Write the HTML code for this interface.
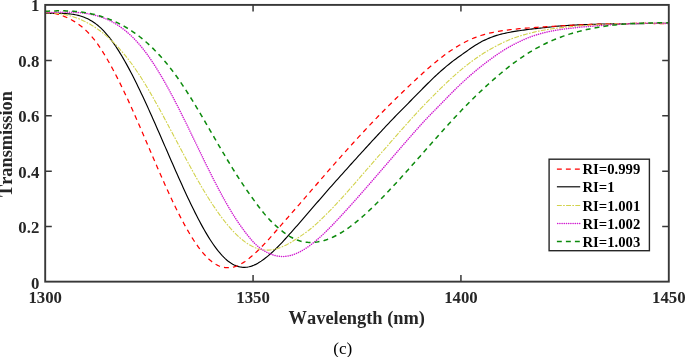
<!DOCTYPE html>
<html lang="en">
<head>
<meta charset="utf-8">
<title>Transmission vs Wavelength (c)</title>
<style>
html,body{margin:0;padding:0;background:#ffffff;}
body{width:685px;height:357px;overflow:hidden;position:relative;font-family:"Liberation Serif","Times New Roman",serif;}
</style>
</head>
<body>
<svg width="685" height="357" viewBox="0 0 685 357" style="position:absolute;left:0;top:0;display:block;will-change:transform">
<defs><filter id="ga" filterUnits="userSpaceOnUse" x="0" y="0" width="685" height="357"><feOffset dx="0" dy="0"/></filter></defs>
<rect x="0" y="0" width="685" height="357" fill="#ffffff"/>
<clipPath id="cp"><rect x="45.2" y="4.9" width="623.5999999999999" height="276.75"/></clipPath>
<g fill="none" clip-path="url(#cp)" stroke-linecap="butt" stroke-linejoin="round">
<path d="M45.2,13.40 L46.7,13.41 L48.2,13.42 L49.7,13.42 L51.2,13.41 L52.7,13.40 L54.2,13.39 L55.7,13.38 L57.2,13.37 L58.7,13.38 L60.2,13.39 L61.7,13.41 L63.2,13.46 L64.7,13.52 L66.2,13.60 L67.7,13.70 L69.2,13.84 L70.7,14.00 L72.2,14.20 L73.7,14.43 L75.2,14.70 L76.7,15.01 L78.2,15.37 L79.7,15.77 L81.2,16.22 L82.7,16.73 L84.2,17.29 L85.7,17.91 L87.2,18.59 L88.7,19.34 L90.2,20.15 L91.7,21.03 L93.2,21.98 L94.7,23.01 L96.2,24.12 L97.7,25.31 L99.2,26.58 L100.7,27.94 L102.2,29.39 L103.7,30.93 L105.2,32.56 L106.7,34.27 L108.2,36.08 L109.7,37.96 L111.2,39.93 L112.7,41.98 L114.2,44.10 L115.7,46.30 L117.2,48.57 L118.7,50.92 L120.2,53.33 L121.7,55.81 L123.2,58.35 L124.7,60.96 L126.2,63.63 L127.7,66.35 L129.2,69.13 L130.7,71.97 L132.2,74.86 L133.7,77.79 L135.2,80.78 L136.7,83.81 L138.2,86.88 L139.7,89.99 L141.2,93.14 L142.7,96.32 L144.2,99.54 L145.7,102.79 L147.2,106.07 L148.7,109.38 L150.2,112.71 L151.7,116.06 L153.2,119.44 L154.7,122.83 L156.2,126.24 L157.7,129.66 L159.2,133.09 L160.7,136.53 L162.2,139.97 L163.7,143.43 L165.2,146.88 L166.7,150.33 L168.2,153.78 L169.7,157.23 L171.2,160.67 L172.7,164.10 L174.2,167.52 L175.7,170.92 L177.2,174.31 L178.7,177.68 L180.2,181.03 L181.7,184.36 L183.2,187.66 L184.7,190.94 L186.2,194.18 L187.7,197.40 L189.2,200.57 L190.7,203.71 L192.2,206.81 L193.7,209.87 L195.2,212.88 L196.7,215.84 L198.2,218.74 L199.7,221.59 L201.2,224.38 L202.7,227.11 L204.2,229.77 L205.7,232.37 L207.2,234.90 L208.7,237.35 L210.2,239.72 L211.7,242.02 L213.2,244.23 L214.7,246.36 L216.2,248.40 L217.7,250.35 L219.2,252.21 L220.7,253.96 L222.2,255.62 L223.7,257.17 L225.2,258.62 L226.7,259.96 L228.2,261.19 L229.7,262.30 L231.2,263.30 L232.7,264.19 L234.2,264.96 L235.7,265.62 L237.2,266.17 L238.7,266.62 L240.2,266.95 L241.7,267.18 L243.2,267.31 L244.7,267.33 L246.2,267.24 L247.7,267.06 L249.2,266.77 L250.7,266.39 L252.2,265.90 L253.7,265.32 L255.2,264.64 L256.7,263.88 L258.2,263.03 L259.7,262.10 L261.2,261.11 L262.7,260.06 L264.2,258.95 L265.7,257.79 L267.2,256.59 L268.7,255.34 L270.2,254.04 L271.7,252.70 L273.2,251.33 L274.7,249.91 L276.2,248.46 L277.7,246.97 L279.2,245.44 L280.7,243.88 L282.2,242.28 L283.7,240.65 L285.2,239.00 L286.7,237.33 L288.2,235.65 L289.7,233.97 L291.2,232.28 L292.7,230.59 L294.2,228.90 L295.7,227.21 L297.2,225.52 L298.7,223.81 L300.2,222.11 L301.7,220.39 L303.2,218.68 L304.7,216.95 L306.2,215.21 L307.7,213.47 L309.2,211.73 L310.7,209.98 L312.2,208.24 L313.7,206.49 L315.2,204.74 L316.7,202.99 L318.2,201.25 L319.7,199.51 L321.2,197.77 L322.7,196.04 L324.2,194.31 L325.7,192.59 L327.2,190.88 L328.7,189.18 L330.2,187.49 L331.7,185.79 L333.2,184.11 L334.7,182.42 L336.2,180.74 L337.7,179.06 L339.2,177.38 L340.7,175.70 L342.2,174.02 L343.7,172.35 L345.2,170.68 L346.7,169.01 L348.2,167.34 L349.7,165.67 L351.2,164.01 L352.7,162.35 L354.2,160.69 L355.7,159.04 L357.2,157.38 L358.7,155.73 L360.2,154.08 L361.7,152.43 L363.2,150.79 L364.7,149.15 L366.2,147.51 L367.7,145.88 L369.2,144.24 L370.7,142.61 L372.2,140.98 L373.7,139.36 L375.2,137.74 L376.7,136.12 L378.2,134.50 L379.7,132.89 L381.2,131.28 L382.7,129.67 L384.2,128.07 L385.7,126.47 L387.2,124.87 L388.7,123.28 L390.2,121.69 L391.7,120.11 L393.2,118.54 L394.7,116.98 L396.2,115.44 L397.7,113.90 L399.2,112.37 L400.7,110.85 L402.2,109.33 L403.7,107.82 L405.2,106.31 L406.7,104.80 L408.2,103.28 L409.7,101.76 L411.2,100.24 L412.7,98.71 L414.2,97.18 L415.7,95.65 L417.2,94.11 L418.7,92.58 L420.2,91.05 L421.7,89.53 L423.2,88.01 L424.7,86.51 L426.2,85.01 L427.7,83.52 L429.2,82.05 L430.7,80.58 L432.2,79.13 L433.7,77.70 L435.2,76.28 L436.7,74.88 L438.2,73.50 L439.7,72.14 L441.2,70.80 L442.7,69.48 L444.2,68.19 L445.7,66.92 L447.2,65.67 L448.7,64.44 L450.2,63.24 L451.7,62.06 L453.2,60.91 L454.7,59.78 L456.2,58.67 L457.7,57.58 L459.2,56.50 L460.7,55.42 L462.2,54.35 L463.7,53.29 L465.2,52.22 L466.7,51.16 L468.2,50.10 L469.7,49.05 L471.2,48.02 L472.7,47.01 L474.2,46.02 L475.7,45.07 L477.2,44.15 L478.7,43.27 L480.2,42.42 L481.7,41.61 L483.2,40.84 L484.7,40.11 L486.2,39.40 L487.7,38.73 L489.2,38.10 L490.7,37.49 L492.2,36.92 L493.7,36.38 L495.2,35.87 L496.7,35.40 L498.2,34.96 L499.7,34.54 L501.2,34.15 L502.7,33.79 L504.2,33.44 L505.7,33.11 L507.2,32.80 L508.7,32.50 L510.2,32.22 L511.7,31.94 L513.2,31.67 L514.7,31.42 L516.2,31.17 L517.7,30.93 L519.2,30.70 L520.7,30.48 L522.2,30.27 L523.7,30.06 L525.2,29.86 L526.7,29.67 L528.2,29.47 L529.7,29.29 L531.2,29.11 L532.7,28.93 L534.2,28.76 L535.7,28.59 L537.2,28.43 L538.7,28.27 L540.2,28.11 L541.7,27.95 L543.2,27.79 L544.7,27.63 L546.2,27.46 L547.7,27.29 L549.2,27.12 L550.7,26.95 L552.2,26.78 L553.7,26.61 L555.2,26.45 L556.7,26.29 L558.2,26.14 L559.7,26.01 L561.2,25.88 L562.7,25.76 L564.2,25.66 L565.7,25.56 L567.2,25.47 L568.7,25.38 L570.2,25.29 L571.7,25.21 L573.2,25.13 L574.7,25.06 L576.2,24.99 L577.7,24.92 L579.2,24.85 L580.7,24.78 L582.2,24.72 L583.7,24.66 L585.2,24.61 L586.7,24.55 L588.2,24.50 L589.7,24.45 L591.2,24.40 L592.7,24.35 L594.2,24.31 L595.7,24.27 L597.2,24.23 L598.7,24.19 L600.2,24.15 L601.7,24.12 L603.2,24.09 L604.7,24.05 L606.2,24.02 L607.7,24.00 L609.2,23.97 L610.7,23.94 L612.2,23.92 L613.7,23.89 L615.2,23.87 L616.7,23.85 L618.2,23.83 L619.7,23.81 L621.2,23.79 L622.7,23.77 L624.2,23.75 L625.7,23.74 L627.2,23.72 L628.7,23.70 L630.2,23.69 L631.7,23.67 L633.2,23.66 L634.7,23.65 L636.2,23.63 L637.7,23.62 L639.2,23.60 L640.7,23.59 L642.2,23.57 L643.7,23.56 L645.2,23.55 L646.7,23.53 L648.2,23.51 L649.7,23.50 L651.2,23.48 L652.7,23.47 L654.2,23.45 L655.7,23.43 L657.2,23.41 L658.7,23.39 L660.2,23.37 L661.7,23.35 L663.2,23.33 L664.7,23.30 L666.2,23.28 L668.8,23.23" stroke="#000000" stroke-width="1.15"/>
<path d="M45.2,12.34 L46.7,12.37 L48.2,12.46 L49.7,12.61 L51.2,12.81 L52.7,13.06 L54.2,13.36 L55.7,13.70 L57.2,14.08 L58.7,14.49 L60.2,14.95 L61.7,15.45 L63.2,16.00 L64.7,16.59 L66.2,17.23 L67.7,17.91 L69.2,18.64 L70.7,19.41 L72.2,20.24 L73.7,21.11 L75.2,22.04 L76.7,23.02 L78.2,24.06 L79.7,25.16 L81.2,26.32 L82.7,27.55 L84.2,28.85 L85.7,30.22 L87.2,31.67 L88.7,33.20 L90.2,34.81 L91.7,36.51 L93.2,38.30 L94.7,40.18 L96.2,42.15 L97.7,44.23 L99.2,46.39 L100.7,48.63 L102.2,50.95 L103.7,53.35 L105.2,55.82 L106.7,58.35 L108.2,60.94 L109.7,63.59 L111.2,66.29 L112.7,69.05 L114.2,71.86 L115.7,74.72 L117.2,77.64 L118.7,80.60 L120.2,83.61 L121.7,86.67 L123.2,89.78 L124.7,92.93 L126.2,96.13 L127.7,99.36 L129.2,102.63 L130.7,105.93 L132.2,109.27 L133.7,112.63 L135.2,116.02 L136.7,119.43 L138.2,122.87 L139.7,126.32 L141.2,129.78 L142.7,133.26 L144.2,136.75 L145.7,140.25 L147.2,143.75 L148.7,147.25 L150.2,150.76 L151.7,154.26 L153.2,157.75 L154.7,161.24 L156.2,164.71 L157.7,168.17 L159.2,171.62 L160.7,175.04 L162.2,178.45 L163.7,181.82 L165.2,185.18 L166.7,188.50 L168.2,191.79 L169.7,195.04 L171.2,198.26 L172.7,201.44 L174.2,204.57 L175.7,207.66 L177.2,210.70 L178.7,213.69 L180.2,216.63 L181.7,219.51 L183.2,222.33 L184.7,225.09 L186.2,227.78 L187.7,230.41 L189.2,232.98 L190.7,235.47 L192.2,237.88 L193.7,240.22 L195.2,242.49 L196.7,244.67 L198.2,246.77 L199.7,248.78 L201.2,250.71 L202.7,252.54 L204.2,254.29 L205.7,255.93 L207.2,257.49 L208.7,258.93 L210.2,260.28 L211.7,261.52 L213.2,262.65 L214.7,263.66 L216.2,264.56 L217.7,265.33 L219.2,266.00 L220.7,266.54 L222.2,266.98 L223.7,267.31 L225.2,267.53 L226.7,267.66 L228.2,267.69 L229.7,267.61 L231.2,267.44 L232.7,267.17 L234.2,266.80 L235.7,266.33 L237.2,265.77 L238.7,265.11 L240.2,264.37 L241.7,263.54 L243.2,262.63 L244.7,261.65 L246.2,260.60 L247.7,259.49 L249.2,258.31 L250.7,257.07 L252.2,255.79 L253.7,254.45 L255.2,253.08 L256.7,251.68 L258.2,250.25 L259.7,248.78 L261.2,247.28 L262.7,245.75 L264.2,244.18 L265.7,242.58 L267.2,240.96 L268.7,239.30 L270.2,237.63 L271.7,235.94 L273.2,234.23 L274.7,232.51 L276.2,230.78 L277.7,229.05 L279.2,227.33 L280.7,225.60 L282.2,223.89 L283.7,222.18 L285.2,220.48 L286.7,218.77 L288.2,217.07 L289.7,215.37 L291.2,213.66 L292.7,211.94 L294.2,210.22 L295.7,208.50 L297.2,206.77 L298.7,205.04 L300.2,203.31 L301.7,201.57 L303.2,199.84 L304.7,198.10 L306.2,196.36 L307.7,194.62 L309.2,192.89 L310.7,191.15 L312.2,189.42 L313.7,187.68 L315.2,185.95 L316.7,184.22 L318.2,182.49 L319.7,180.76 L321.2,179.04 L322.7,177.31 L324.2,175.59 L325.7,173.87 L327.2,172.16 L328.7,170.44 L330.2,168.73 L331.7,167.02 L333.2,165.32 L334.7,163.62 L336.2,161.92 L337.7,160.22 L339.2,158.53 L340.7,156.84 L342.2,155.16 L343.7,153.48 L345.2,151.80 L346.7,150.13 L348.2,148.47 L349.7,146.81 L351.2,145.15 L352.7,143.50 L354.2,141.85 L355.7,140.21 L357.2,138.57 L358.7,136.94 L360.2,135.31 L361.7,133.69 L363.2,132.08 L364.7,130.47 L366.2,128.87 L367.7,127.28 L369.2,125.69 L370.7,124.11 L372.2,122.53 L373.7,120.96 L375.2,119.40 L376.7,117.85 L378.2,116.30 L379.7,114.76 L381.2,113.23 L382.7,111.71 L384.2,110.19 L385.7,108.68 L387.2,107.18 L388.7,105.68 L390.2,104.19 L391.7,102.71 L393.2,101.23 L394.7,99.76 L396.2,98.30 L397.7,96.84 L399.2,95.38 L400.7,93.93 L402.2,92.49 L403.7,91.05 L405.2,89.62 L406.7,88.19 L408.2,86.76 L409.7,85.34 L411.2,83.92 L412.7,82.51 L414.2,81.10 L415.7,79.70 L417.2,78.30 L418.7,76.91 L420.2,75.53 L421.7,74.17 L423.2,72.81 L424.7,71.46 L426.2,70.13 L427.7,68.81 L429.2,67.51 L430.7,66.21 L432.2,64.93 L433.7,63.67 L435.2,62.42 L436.7,61.19 L438.2,59.98 L439.7,58.79 L441.2,57.62 L442.7,56.47 L444.2,55.34 L445.7,54.24 L447.2,53.15 L448.7,52.09 L450.2,51.05 L451.7,50.04 L453.2,49.04 L454.7,48.07 L456.2,47.13 L457.7,46.21 L459.2,45.32 L460.7,44.45 L462.2,43.61 L463.7,42.80 L465.2,42.01 L466.7,41.25 L468.2,40.53 L469.7,39.82 L471.2,39.15 L472.7,38.51 L474.2,37.89 L475.7,37.30 L477.2,36.74 L478.7,36.21 L480.2,35.71 L481.7,35.23 L483.2,34.78 L484.7,34.36 L486.2,33.96 L487.7,33.58 L489.2,33.22 L490.7,32.88 L492.2,32.55 L493.7,32.25 L495.2,31.96 L496.7,31.67 L498.2,31.41 L499.7,31.15 L501.2,30.91 L502.7,30.67 L504.2,30.45 L505.7,30.24 L507.2,30.04 L508.7,29.85 L510.2,29.67 L511.7,29.50 L513.2,29.33 L514.7,29.17 L516.2,29.02 L517.7,28.87 L519.2,28.73 L520.7,28.60 L522.2,28.47 L523.7,28.35 L525.2,28.23 L526.7,28.11 L528.2,28.00 L529.7,27.89 L531.2,27.77 L532.7,27.67 L534.2,27.56 L535.7,27.45 L537.2,27.35 L538.7,27.24 L540.2,27.14 L541.7,27.04 L543.2,26.94 L544.7,26.84 L546.2,26.74 L547.7,26.64 L549.2,26.55 L550.7,26.45 L552.2,26.36 L553.7,26.27 L555.2,26.18 L556.7,26.09 L558.2,26.00 L559.7,25.92 L561.2,25.83 L562.7,25.75 L564.2,25.67 L565.7,25.59 L567.2,25.51 L568.7,25.43 L570.2,25.35 L571.7,25.28 L573.2,25.20 L574.7,25.13 L576.2,25.06 L577.7,24.99 L579.2,24.92 L580.7,24.86 L582.2,24.79 L583.7,24.73 L585.2,24.67 L586.7,24.60 L588.2,24.55 L589.7,24.49 L591.2,24.43 L592.7,24.38 L594.2,24.32 L595.7,24.27 L597.2,24.22 L598.7,24.17 L600.2,24.13 L601.7,24.08 L603.2,24.04 L604.7,23.99 L606.2,23.95 L607.7,23.91 L609.2,23.88 L610.7,23.84 L612.2,23.80 L613.7,23.77 L615.2,23.74 L616.7,23.71 L618.2,23.68 L619.7,23.66 L621.2,23.63 L622.7,23.61 L624.2,23.59 L625.7,23.57 L627.2,23.55 L628.7,23.53 L630.2,23.52 L631.7,23.50 L633.2,23.49 L634.7,23.48 L636.2,23.48 L637.7,23.47 L639.2,23.46 L640.7,23.46 L642.2,23.46 L643.7,23.46 L645.2,23.46 L646.7,23.47 L648.2,23.47 L649.7,23.48 L651.2,23.49 L652.7,23.50 L654.2,23.52 L655.7,23.53 L657.2,23.55 L658.7,23.57 L660.2,23.59 L661.7,23.61 L663.2,23.63 L664.7,23.66 L666.2,23.69 L668.8,23.74" stroke="#ff0000" stroke-width="1.25" stroke-dasharray="4.9 4.1"/>
<path d="M45.2,12.86 L46.7,12.84 L48.2,12.83 L49.7,12.86 L51.2,12.90 L52.7,12.97 L54.2,13.07 L55.7,13.19 L57.2,13.34 L58.7,13.52 L60.2,13.73 L61.7,13.96 L63.2,14.22 L64.7,14.52 L66.2,14.84 L67.7,15.19 L69.2,15.57 L70.7,15.98 L72.2,16.42 L73.7,16.90 L75.2,17.40 L76.7,17.94 L78.2,18.51 L79.7,19.12 L81.2,19.75 L82.7,20.43 L84.2,21.13 L85.7,21.88 L87.2,22.65 L88.7,23.47 L90.2,24.31 L91.7,25.20 L93.2,26.12 L94.7,27.08 L96.2,28.08 L97.7,29.12 L99.2,30.20 L100.7,31.31 L102.2,32.46 L103.7,33.66 L105.2,34.89 L106.7,36.17 L108.2,37.49 L109.7,38.85 L111.2,40.25 L112.7,41.69 L114.2,43.18 L115.7,44.71 L117.2,46.29 L118.7,47.91 L120.2,49.57 L121.7,51.28 L123.2,53.03 L124.7,54.83 L126.2,56.68 L127.7,58.58 L129.2,60.52 L130.7,62.51 L132.2,64.54 L133.7,66.63 L135.2,68.77 L136.7,70.95 L138.2,73.19 L139.7,75.47 L141.2,77.80 L142.7,80.17 L144.2,82.58 L145.7,85.03 L147.2,87.53 L148.7,90.05 L150.2,92.61 L151.7,95.21 L153.2,97.83 L154.7,100.48 L156.2,103.16 L157.7,105.87 L159.2,108.59 L160.7,111.34 L162.2,114.10 L163.7,116.88 L165.2,119.68 L166.7,122.49 L168.2,125.31 L169.7,128.14 L171.2,130.97 L172.7,133.81 L174.2,136.66 L175.7,139.50 L177.2,142.35 L178.7,145.19 L180.2,148.02 L181.7,150.85 L183.2,153.68 L184.7,156.49 L186.2,159.28 L187.7,162.07 L189.2,164.84 L190.7,167.59 L192.2,170.32 L193.7,173.02 L195.2,175.71 L196.7,178.37 L198.2,181.00 L199.7,183.60 L201.2,186.16 L202.7,188.70 L204.2,191.20 L205.7,193.67 L207.2,196.10 L208.7,198.49 L210.2,200.85 L211.7,203.16 L213.2,205.44 L214.7,207.67 L216.2,209.86 L217.7,212.00 L219.2,214.10 L220.7,216.15 L222.2,218.16 L223.7,220.11 L225.2,222.01 L226.7,223.87 L228.2,225.67 L229.7,227.41 L231.2,229.10 L232.7,230.74 L234.2,232.32 L235.7,233.84 L237.2,235.29 L238.7,236.69 L240.2,238.03 L241.7,239.30 L243.2,240.51 L244.7,241.65 L246.2,242.72 L247.7,243.73 L249.2,244.67 L250.7,245.54 L252.2,246.33 L253.7,247.06 L255.2,247.71 L256.7,248.28 L258.2,248.78 L259.7,249.20 L261.2,249.54 L262.7,249.80 L264.2,249.98 L265.7,250.09 L267.2,250.12 L268.7,250.08 L270.2,249.96 L271.7,249.78 L273.2,249.53 L274.7,249.22 L276.2,248.85 L277.7,248.41 L279.2,247.92 L280.7,247.37 L282.2,246.77 L283.7,246.12 L285.2,245.42 L286.7,244.68 L288.2,243.88 L289.7,243.05 L291.2,242.18 L292.7,241.27 L294.2,240.32 L295.7,239.36 L297.2,238.37 L298.7,237.37 L300.2,236.36 L301.7,235.35 L303.2,234.33 L304.7,233.28 L306.2,232.21 L307.7,231.10 L309.2,229.95 L310.7,228.75 L312.2,227.51 L313.7,226.22 L315.2,224.90 L316.7,223.54 L318.2,222.15 L319.7,220.74 L321.2,219.31 L322.7,217.86 L324.2,216.39 L325.7,214.91 L327.2,213.41 L328.7,211.90 L330.2,210.36 L331.7,208.82 L333.2,207.26 L334.7,205.68 L336.2,204.10 L337.7,202.49 L339.2,200.88 L340.7,199.25 L342.2,197.60 L343.7,195.94 L345.2,194.27 L346.7,192.58 L348.2,190.88 L349.7,189.18 L351.2,187.47 L352.7,185.75 L354.2,184.03 L355.7,182.31 L357.2,180.58 L358.7,178.85 L360.2,177.12 L361.7,175.39 L363.2,173.66 L364.7,171.93 L366.2,170.21 L367.7,168.49 L369.2,166.77 L370.7,165.05 L372.2,163.34 L373.7,161.62 L375.2,159.90 L376.7,158.18 L378.2,156.46 L379.7,154.74 L381.2,153.02 L382.7,151.30 L384.2,149.57 L385.7,147.85 L387.2,146.13 L388.7,144.41 L390.2,142.69 L391.7,140.98 L393.2,139.26 L394.7,137.55 L396.2,135.84 L397.7,134.13 L399.2,132.43 L400.7,130.73 L402.2,129.04 L403.7,127.35 L405.2,125.66 L406.7,123.98 L408.2,122.30 L409.7,120.63 L411.2,118.97 L412.7,117.31 L414.2,115.66 L415.7,114.03 L417.2,112.40 L418.7,110.78 L420.2,109.19 L421.7,107.60 L423.2,106.03 L424.7,104.48 L426.2,102.94 L427.7,101.41 L429.2,99.89 L430.7,98.38 L432.2,96.87 L433.7,95.37 L435.2,93.88 L436.7,92.38 L438.2,90.90 L439.7,89.42 L441.2,87.95 L442.7,86.49 L444.2,85.04 L445.7,83.60 L447.2,82.18 L448.7,80.77 L450.2,79.38 L451.7,78.00 L453.2,76.64 L454.7,75.29 L456.2,73.96 L457.7,72.66 L459.2,71.37 L460.7,70.10 L462.2,68.85 L463.7,67.63 L465.2,66.42 L466.7,65.24 L468.2,64.07 L469.7,62.93 L471.2,61.80 L472.7,60.70 L474.2,59.61 L475.7,58.54 L477.2,57.49 L478.7,56.47 L480.2,55.46 L481.7,54.48 L483.2,53.51 L484.7,52.57 L486.2,51.66 L487.7,50.76 L489.2,49.88 L490.7,49.02 L492.2,48.18 L493.7,47.35 L495.2,46.54 L496.7,45.75 L498.2,44.97 L499.7,44.20 L501.2,43.45 L502.7,42.72 L504.2,42.01 L505.7,41.32 L507.2,40.65 L508.7,40.01 L510.2,39.39 L511.7,38.80 L513.2,38.23 L514.7,37.69 L516.2,37.17 L517.7,36.68 L519.2,36.21 L520.7,35.75 L522.2,35.31 L523.7,34.88 L525.2,34.46 L526.7,34.04 L528.2,33.64 L529.7,33.24 L531.2,32.86 L532.7,32.48 L534.2,32.12 L535.7,31.78 L537.2,31.44 L538.7,31.13 L540.2,30.82 L541.7,30.53 L543.2,30.25 L544.7,29.98 L546.2,29.72 L547.7,29.48 L549.2,29.24 L550.7,29.02 L552.2,28.80 L553.7,28.60 L555.2,28.39 L556.7,28.20 L558.2,28.01 L559.7,27.83 L561.2,27.65 L562.7,27.48 L564.2,27.31 L565.7,27.15 L567.2,27.00 L568.7,26.85 L570.2,26.71 L571.7,26.57 L573.2,26.43 L574.7,26.31 L576.2,26.18 L577.7,26.06 L579.2,25.94 L580.7,25.83 L582.2,25.73 L583.7,25.62 L585.2,25.52 L586.7,25.43 L588.2,25.34 L589.7,25.25 L591.2,25.16 L592.7,25.08 L594.2,24.99 L595.7,24.90 L597.2,24.81 L598.7,24.73 L600.2,24.64 L601.7,24.55 L603.2,24.47 L604.7,24.38 L606.2,24.30 L607.7,24.23 L609.2,24.15 L610.7,24.08 L612.2,24.01 L613.7,23.95 L615.2,23.88 L616.7,23.82 L618.2,23.76 L619.7,23.71 L621.2,23.66 L622.7,23.61 L624.2,23.57 L625.7,23.54 L627.2,23.51 L628.7,23.49 L630.2,23.47 L631.7,23.45 L633.2,23.44 L634.7,23.43 L636.2,23.42 L637.7,23.42 L639.2,23.41 L640.7,23.41 L642.2,23.40 L643.7,23.40 L645.2,23.40 L646.7,23.40 L648.2,23.40 L649.7,23.40 L651.2,23.40 L652.7,23.40 L654.2,23.40 L655.7,23.40 L657.2,23.40 L658.7,23.41 L660.2,23.41 L661.7,23.41 L663.2,23.41 L664.7,23.41 L666.2,23.41 L668.8,23.41" stroke="#d2d24c" stroke-width="1.1" stroke-dasharray="4.9 1.3 1.7 1.3"/>
<path d="M45.2,12.58 L46.7,12.56 L48.2,12.53 L49.7,12.49 L51.2,12.45 L52.7,12.41 L54.2,12.37 L55.7,12.33 L57.2,12.30 L58.7,12.26 L60.2,12.23 L61.7,12.21 L63.2,12.19 L64.7,12.18 L66.2,12.18 L67.7,12.18 L69.2,12.20 L70.7,12.23 L72.2,12.27 L73.7,12.33 L75.2,12.40 L76.7,12.48 L78.2,12.59 L79.7,12.71 L81.2,12.85 L82.7,13.01 L84.2,13.19 L85.7,13.40 L87.2,13.62 L88.7,13.88 L90.2,14.16 L91.7,14.46 L93.2,14.80 L94.7,15.16 L96.2,15.55 L97.7,15.97 L99.2,16.43 L100.7,16.92 L102.2,17.44 L103.7,18.00 L105.2,18.60 L106.7,19.23 L108.2,19.90 L109.7,20.61 L111.2,21.36 L112.7,22.16 L114.2,22.99 L115.7,23.88 L117.2,24.80 L118.7,25.77 L120.2,26.79 L121.7,27.86 L123.2,28.98 L124.7,30.15 L126.2,31.37 L127.7,32.64 L129.2,33.97 L130.7,35.35 L132.2,36.78 L133.7,38.28 L135.2,39.83 L136.7,41.44 L138.2,43.11 L139.7,44.85 L141.2,46.64 L142.7,48.50 L144.2,50.41 L145.7,52.39 L147.2,54.43 L148.7,56.52 L150.2,58.66 L151.7,60.86 L153.2,63.12 L154.7,65.42 L156.2,67.78 L157.7,70.19 L159.2,72.64 L160.7,75.14 L162.2,77.69 L163.7,80.28 L165.2,82.91 L166.7,85.59 L168.2,88.30 L169.7,91.06 L171.2,93.85 L172.7,96.68 L174.2,99.55 L175.7,102.45 L177.2,105.37 L178.7,108.32 L180.2,111.30 L181.7,114.30 L183.2,117.32 L184.7,120.36 L186.2,123.41 L187.7,126.48 L189.2,129.56 L190.7,132.65 L192.2,135.75 L193.7,138.85 L195.2,141.96 L196.7,145.06 L198.2,148.16 L199.7,151.26 L201.2,154.35 L202.7,157.44 L204.2,160.51 L205.7,163.57 L207.2,166.62 L208.7,169.64 L210.2,172.65 L211.7,175.64 L213.2,178.60 L214.7,181.53 L216.2,184.44 L217.7,187.32 L219.2,190.16 L220.7,192.97 L222.2,195.74 L223.7,198.47 L225.2,201.15 L226.7,203.80 L228.2,206.40 L229.7,208.94 L231.2,211.44 L232.7,213.89 L234.2,216.28 L235.7,218.61 L237.2,220.88 L238.7,223.10 L240.2,225.26 L241.7,227.37 L243.2,229.43 L244.7,231.44 L246.2,233.42 L247.7,235.34 L249.2,237.21 L250.7,239.01 L252.2,240.73 L253.7,242.37 L255.2,243.90 L256.7,245.32 L258.2,246.63 L259.7,247.83 L261.2,248.93 L262.7,249.95 L264.2,250.87 L265.7,251.72 L267.2,252.50 L268.7,253.22 L270.2,253.87 L271.7,254.45 L273.2,254.97 L274.7,255.42 L276.2,255.80 L277.7,256.10 L279.2,256.31 L280.7,256.45 L282.2,256.50 L283.7,256.48 L285.2,256.39 L286.7,256.22 L288.2,255.97 L289.7,255.66 L291.2,255.28 L292.7,254.83 L294.2,254.31 L295.7,253.74 L297.2,253.10 L298.7,252.40 L300.2,251.65 L301.7,250.84 L303.2,249.97 L304.7,249.05 L306.2,248.09 L307.7,247.07 L309.2,246.01 L310.7,244.90 L312.2,243.75 L313.7,242.56 L315.2,241.33 L316.7,240.07 L318.2,238.77 L319.7,237.43 L321.2,236.06 L322.7,234.66 L324.2,233.24 L325.7,231.79 L327.2,230.31 L328.7,228.81 L330.2,227.29 L331.7,225.75 L333.2,224.20 L334.7,222.63 L336.2,221.04 L337.7,219.45 L339.2,217.84 L340.7,216.23 L342.2,214.61 L343.7,212.98 L345.2,211.34 L346.7,209.69 L348.2,208.04 L349.7,206.38 L351.2,204.72 L352.7,203.04 L354.2,201.37 L355.7,199.68 L357.2,197.99 L358.7,196.30 L360.2,194.60 L361.7,192.89 L363.2,191.18 L364.7,189.47 L366.2,187.75 L367.7,186.03 L369.2,184.31 L370.7,182.58 L372.2,180.85 L373.7,179.12 L375.2,177.38 L376.7,175.64 L378.2,173.91 L379.7,172.16 L381.2,170.42 L382.7,168.68 L384.2,166.93 L385.7,165.19 L387.2,163.45 L388.7,161.70 L390.2,159.96 L391.7,158.21 L393.2,156.47 L394.7,154.73 L396.2,152.99 L397.7,151.25 L399.2,149.51 L400.7,147.78 L402.2,146.04 L403.7,144.31 L405.2,142.59 L406.7,140.86 L408.2,139.14 L409.7,137.43 L411.2,135.72 L412.7,134.01 L414.2,132.30 L415.7,130.61 L417.2,128.91 L418.7,127.23 L420.2,125.56 L421.7,123.90 L423.2,122.25 L424.7,120.63 L426.2,119.02 L427.7,117.44 L429.2,115.88 L430.7,114.33 L432.2,112.80 L433.7,111.27 L435.2,109.75 L436.7,108.23 L438.2,106.70 L439.7,105.17 L441.2,103.64 L442.7,102.09 L444.2,100.55 L445.7,99.00 L447.2,97.46 L448.7,95.93 L450.2,94.40 L451.7,92.89 L453.2,91.38 L454.7,89.89 L456.2,88.42 L457.7,86.96 L459.2,85.51 L460.7,84.09 L462.2,82.68 L463.7,81.29 L465.2,79.92 L466.7,78.57 L468.2,77.23 L469.7,75.91 L471.2,74.61 L472.7,73.32 L474.2,72.05 L475.7,70.79 L477.2,69.55 L478.7,68.32 L480.2,67.11 L481.7,65.92 L483.2,64.74 L484.7,63.58 L486.2,62.44 L487.7,61.30 L489.2,60.19 L490.7,59.09 L492.2,58.00 L493.7,56.92 L495.2,55.87 L496.7,54.83 L498.2,53.81 L499.7,52.81 L501.2,51.83 L502.7,50.87 L504.2,49.93 L505.7,49.02 L507.2,48.12 L508.7,47.25 L510.2,46.40 L511.7,45.58 L513.2,44.78 L514.7,43.99 L516.2,43.23 L517.7,42.49 L519.2,41.77 L520.7,41.06 L522.2,40.37 L523.7,39.69 L525.2,39.04 L526.7,38.40 L528.2,37.79 L529.7,37.20 L531.2,36.64 L532.7,36.10 L534.2,35.59 L535.7,35.09 L537.2,34.62 L538.7,34.17 L540.2,33.74 L541.7,33.33 L543.2,32.94 L544.7,32.56 L546.2,32.20 L547.7,31.86 L549.2,31.54 L550.7,31.24 L552.2,30.94 L553.7,30.66 L555.2,30.39 L556.7,30.13 L558.2,29.89 L559.7,29.65 L561.2,29.42 L562.7,29.20 L564.2,28.99 L565.7,28.79 L567.2,28.59 L568.7,28.41 L570.2,28.23 L571.7,28.05 L573.2,27.89 L574.7,27.73 L576.2,27.58 L577.7,27.43 L579.2,27.28 L580.7,27.15 L582.2,27.01 L583.7,26.88 L585.2,26.75 L586.7,26.63 L588.2,26.51 L589.7,26.39 L591.2,26.27 L592.7,26.15 L594.2,26.03 L595.7,25.90 L597.2,25.78 L598.7,25.65 L600.2,25.52 L601.7,25.40 L603.2,25.27 L604.7,25.15 L606.2,25.03 L607.7,24.91 L609.2,24.79 L610.7,24.68 L612.2,24.57 L613.7,24.46 L615.2,24.36 L616.7,24.26 L618.2,24.16 L619.7,24.07 L621.2,23.98 L622.7,23.89 L624.2,23.82 L625.7,23.74 L627.2,23.68 L628.7,23.63 L630.2,23.58 L631.7,23.53 L633.2,23.49 L634.7,23.45 L636.2,23.42 L637.7,23.39 L639.2,23.36 L640.7,23.33 L642.2,23.31 L643.7,23.29 L645.2,23.28 L646.7,23.27 L648.2,23.26 L649.7,23.25 L651.2,23.25 L652.7,23.25 L654.2,23.25 L655.7,23.26 L657.2,23.27 L658.7,23.28 L660.2,23.30 L661.7,23.32 L663.2,23.35 L664.7,23.37 L666.2,23.40 L668.8,23.47" stroke="#d01cd0" stroke-width="1.5" stroke-dasharray="0.1 2.1" stroke-linecap="round"/>
<path d="M45.2,11.35 L46.7,11.28 L48.2,11.19 L49.7,11.11 L51.2,11.04 L52.7,10.98 L54.2,10.93 L55.7,10.89 L57.2,10.85 L58.7,10.83 L60.2,10.82 L61.7,10.83 L63.2,10.84 L64.7,10.86 L66.2,10.90 L67.7,10.96 L69.2,11.02 L70.7,11.10 L72.2,11.19 L73.7,11.30 L75.2,11.43 L76.7,11.57 L78.2,11.72 L79.7,11.89 L81.2,12.08 L82.7,12.29 L84.2,12.51 L85.7,12.75 L87.2,13.01 L88.7,13.29 L90.2,13.58 L91.7,13.90 L93.2,14.24 L94.7,14.59 L96.2,14.97 L97.7,15.37 L99.2,15.79 L100.7,16.23 L102.2,16.70 L103.7,17.18 L105.2,17.70 L106.7,18.23 L108.2,18.79 L109.7,19.37 L111.2,19.98 L112.7,20.61 L114.2,21.27 L115.7,21.95 L117.2,22.66 L118.7,23.40 L120.2,24.16 L121.7,24.95 L123.2,25.77 L124.7,26.62 L126.2,27.50 L127.7,28.41 L129.2,29.34 L130.7,30.31 L132.2,31.30 L133.7,32.33 L135.2,33.39 L136.7,34.48 L138.2,35.60 L139.7,36.75 L141.2,37.94 L142.7,39.16 L144.2,40.41 L145.7,41.70 L147.2,43.02 L148.7,44.38 L150.2,45.77 L151.7,47.19 L153.2,48.66 L154.7,50.16 L156.2,51.69 L157.7,53.27 L159.2,54.88 L160.7,56.53 L162.2,58.21 L163.7,59.94 L165.2,61.70 L166.7,63.51 L168.2,65.35 L169.7,67.24 L171.2,69.17 L172.7,71.13 L174.2,73.14 L175.7,75.19 L177.2,77.29 L178.7,79.42 L180.2,81.59 L181.7,83.80 L183.2,86.05 L184.7,88.33 L186.2,90.64 L187.7,92.98 L189.2,95.35 L190.7,97.75 L192.2,100.17 L193.7,102.62 L195.2,105.09 L196.7,107.57 L198.2,110.08 L199.7,112.60 L201.2,115.14 L202.7,117.68 L204.2,120.24 L205.7,122.81 L207.2,125.39 L208.7,127.97 L210.2,130.56 L211.7,133.14 L213.2,135.73 L214.7,138.32 L216.2,140.90 L217.7,143.48 L219.2,146.05 L220.7,148.62 L222.2,151.17 L223.7,153.71 L225.2,156.24 L226.7,158.75 L228.2,161.24 L229.7,163.72 L231.2,166.18 L232.7,168.61 L234.2,171.02 L235.7,173.40 L237.2,175.76 L238.7,178.09 L240.2,180.39 L241.7,182.67 L243.2,184.92 L244.7,187.14 L246.2,189.32 L247.7,191.48 L249.2,193.61 L250.7,195.72 L252.2,197.80 L253.7,199.87 L255.2,201.92 L256.7,203.95 L258.2,205.97 L259.7,207.95 L261.2,209.90 L262.7,211.80 L264.2,213.65 L265.7,215.43 L267.2,217.14 L268.7,218.79 L270.2,220.38 L271.7,221.90 L273.2,223.36 L274.7,224.76 L276.2,226.12 L277.7,227.43 L279.2,228.71 L280.7,229.94 L282.2,231.13 L283.7,232.28 L285.2,233.38 L286.7,234.42 L288.2,235.42 L289.7,236.35 L291.2,237.23 L292.7,238.03 L294.2,238.77 L295.7,239.44 L297.2,240.04 L298.7,240.57 L300.2,241.04 L301.7,241.43 L303.2,241.75 L304.7,242.01 L306.2,242.20 L307.7,242.33 L309.2,242.40 L310.7,242.41 L312.2,242.37 L313.7,242.28 L315.2,242.15 L316.7,241.97 L318.2,241.75 L319.7,241.48 L321.2,241.17 L322.7,240.81 L324.2,240.41 L325.7,239.95 L327.2,239.45 L328.7,238.90 L330.2,238.31 L331.7,237.67 L333.2,236.99 L334.7,236.27 L336.2,235.51 L337.7,234.71 L339.2,233.87 L340.7,232.99 L342.2,232.08 L343.7,231.13 L345.2,230.15 L346.7,229.13 L348.2,228.08 L349.7,227.00 L351.2,225.89 L352.7,224.75 L354.2,223.59 L355.7,222.39 L357.2,221.17 L358.7,219.92 L360.2,218.65 L361.7,217.35 L363.2,216.03 L364.7,214.69 L366.2,213.33 L367.7,211.95 L369.2,210.55 L370.7,209.13 L372.2,207.69 L373.7,206.24 L375.2,204.77 L376.7,203.29 L378.2,201.79 L379.7,200.28 L381.2,198.75 L382.7,197.21 L384.2,195.66 L385.7,194.10 L387.2,192.53 L388.7,190.95 L390.2,189.36 L391.7,187.76 L393.2,186.15 L394.7,184.53 L396.2,182.91 L397.7,181.28 L399.2,179.64 L400.7,177.99 L402.2,176.34 L403.7,174.68 L405.2,173.01 L406.7,171.34 L408.2,169.67 L409.7,167.99 L411.2,166.31 L412.7,164.62 L414.2,162.93 L415.7,161.24 L417.2,159.54 L418.7,157.84 L420.2,156.14 L421.7,154.44 L423.2,152.74 L424.7,151.04 L426.2,149.34 L427.7,147.64 L429.2,145.94 L430.7,144.24 L432.2,142.54 L433.7,140.85 L435.2,139.15 L436.7,137.46 L438.2,135.77 L439.7,134.09 L441.2,132.41 L442.7,130.74 L444.2,129.06 L445.7,127.40 L447.2,125.74 L448.7,124.08 L450.2,122.44 L451.7,120.80 L453.2,119.16 L454.7,117.54 L456.2,115.92 L457.7,114.32 L459.2,112.73 L460.7,111.15 L462.2,109.59 L463.7,108.04 L465.2,106.50 L466.7,104.97 L468.2,103.46 L469.7,101.95 L471.2,100.46 L472.7,98.98 L474.2,97.51 L475.7,96.05 L477.2,94.60 L478.7,93.16 L480.2,91.74 L481.7,90.33 L483.2,88.92 L484.7,87.54 L486.2,86.16 L487.7,84.79 L489.2,83.43 L490.7,82.08 L492.2,80.74 L493.7,79.42 L495.2,78.10 L496.7,76.79 L498.2,75.50 L499.7,74.23 L501.2,72.96 L502.7,71.72 L504.2,70.49 L505.7,69.27 L507.2,68.07 L508.7,66.89 L510.2,65.73 L511.7,64.58 L513.2,63.45 L514.7,62.33 L516.2,61.24 L517.7,60.16 L519.2,59.10 L520.7,58.05 L522.2,57.03 L523.7,56.03 L525.2,55.04 L526.7,54.07 L528.2,53.13 L529.7,52.20 L531.2,51.29 L532.7,50.40 L534.2,49.53 L535.7,48.68 L537.2,47.85 L538.7,47.04 L540.2,46.24 L541.7,45.47 L543.2,44.71 L544.7,43.97 L546.2,43.25 L547.7,42.54 L549.2,41.86 L550.7,41.18 L552.2,40.53 L553.7,39.89 L555.2,39.27 L556.7,38.67 L558.2,38.08 L559.7,37.50 L561.2,36.94 L562.7,36.40 L564.2,35.87 L565.7,35.36 L567.2,34.86 L568.7,34.38 L570.2,33.90 L571.7,33.45 L573.2,33.01 L574.7,32.58 L576.2,32.16 L577.7,31.76 L579.2,31.37 L580.7,30.99 L582.2,30.62 L583.7,30.27 L585.2,29.93 L586.7,29.60 L588.2,29.28 L589.7,28.98 L591.2,28.68 L592.7,28.39 L594.2,28.10 L595.7,27.82 L597.2,27.55 L598.7,27.29 L600.2,27.03 L601.7,26.78 L603.2,26.53 L604.7,26.30 L606.2,26.07 L607.7,25.86 L609.2,25.65 L610.7,25.45 L612.2,25.26 L613.7,25.07 L615.2,24.90 L616.7,24.73 L618.2,24.57 L619.7,24.42 L621.2,24.27 L622.7,24.14 L624.2,24.01 L625.7,23.90 L627.2,23.80 L628.7,23.70 L630.2,23.62 L631.7,23.54 L633.2,23.47 L634.7,23.40 L636.2,23.34 L637.7,23.28 L639.2,23.23 L640.7,23.18 L642.2,23.14 L643.7,23.10 L645.2,23.06 L646.7,23.02 L648.2,22.99 L649.7,22.96 L651.2,22.94 L652.7,22.91 L654.2,22.89 L655.7,22.87 L657.2,22.85 L658.7,22.84 L660.2,22.82 L661.7,22.81 L663.2,22.79 L664.7,22.78 L666.2,22.77 L668.8,22.74" stroke="#0c8a0c" stroke-width="1.5" stroke-dasharray="4.9 4.1"/>
</g>
<g stroke="#383838" stroke-width="1.9" fill="none" stroke-linecap="butt">
<rect x="45.2" y="4.9" width="623.5999999999999" height="276.75"/>
<path stroke-width="1.5" d="M253.07,281.65 V275.04999999999995 M253.07,4.9 V11.5"/>
<path stroke-width="1.5" d="M460.93,281.65 V275.04999999999995 M460.93,4.9 V11.5"/>
<path stroke-width="1.45" d="M45.2,226.50 H51.800000000000004 M668.8,226.50 H662.1999999999999"/>
<path stroke-width="1.45" d="M45.2,171.15 H51.800000000000004 M668.8,171.15 H662.1999999999999"/>
<path stroke-width="1.45" d="M45.2,115.80 H51.800000000000004 M668.8,115.80 H662.1999999999999"/>
<path stroke-width="1.45" d="M45.2,60.45 H51.800000000000004 M668.8,60.45 H662.1999999999999"/>
</g>
<g filter="url(#ga)" style="font-kerning:none">
<g font-family="'Liberation Serif', 'Times New Roman', serif" font-weight="bold" font-size="16.8px" fill="#262626">
<text x="45.20" y="303" text-anchor="middle">1300</text>
<text x="253.07" y="303" text-anchor="middle">1350</text>
<text x="460.93" y="303" text-anchor="middle">1400</text>
<text x="668.80" y="303" text-anchor="middle">1450</text>
<text x="39.3" y="288.85" text-anchor="end">0</text>
<text x="39.3" y="233.34" text-anchor="end">0.2</text>
<text x="39.3" y="177.83" text-anchor="end">0.4</text>
<text x="39.3" y="122.32" text-anchor="end">0.6</text>
<text x="39.3" y="66.81" text-anchor="end">0.8</text>
<text x="39.3" y="11.30" text-anchor="end">1</text>
</g>
<text x="356.8" y="323.6" text-anchor="middle" font-family="'Liberation Serif', 'Times New Roman', serif" font-weight="bold" font-size="18.4px" fill="#262626">Wavelength (nm)</text>
<text transform="translate(12.4,144.1) rotate(-90)" text-anchor="middle" font-family="'Liberation Serif', 'Times New Roman', serif" font-weight="bold" font-size="18.35px" fill="#262626">Transmission</text>
<text x="342.8" y="353.7" text-anchor="middle" font-family="'Liberation Serif', 'Times New Roman', serif" font-size="17.2px" fill="#000000">(c)</text>
</g>
<rect x="549.1" y="159.2" width="100.29999999999995" height="91.5" fill="#ffffff" stroke="#262626" stroke-width="1.4"/>
<g fill="none">
<path d="M556.9,169.0 H580.2" stroke="#ff0000" stroke-width="1.25" stroke-dasharray="4.9 4.1"/>
<path d="M556.9,186.8 H580.2" stroke="#000000" stroke-width="1.15"/>
<path d="M556.9,205.5 H580.2" stroke="#d2d24c" stroke-width="1.1" stroke-dasharray="4.9 1.3 1.7 1.3"/>
<path d="M557.65,223.4 H579.8" stroke="#d01cd0" stroke-width="1.5" stroke-dasharray="0.1 2.1" stroke-linecap="round"/>
<path d="M556.9,241.6 H580.2" stroke="#0c8a0c" stroke-width="1.5" stroke-dasharray="4.9 4.1"/>
</g>
<g font-family="'Liberation Serif', 'Times New Roman', serif" font-weight="bold" font-size="14.7px" fill="#000000" filter="url(#ga)" style="font-kerning:none">
<text x="582.5" y="174.2">RI=0.999</text>
<text x="582.5" y="192.0">RI=1</text>
<text x="582.5" y="210.7">RI=1.001</text>
<text x="582.5" y="228.6">RI=1.002</text>
<text x="582.5" y="246.8">RI=1.003</text>
</g>
</svg>
</body>
</html>
